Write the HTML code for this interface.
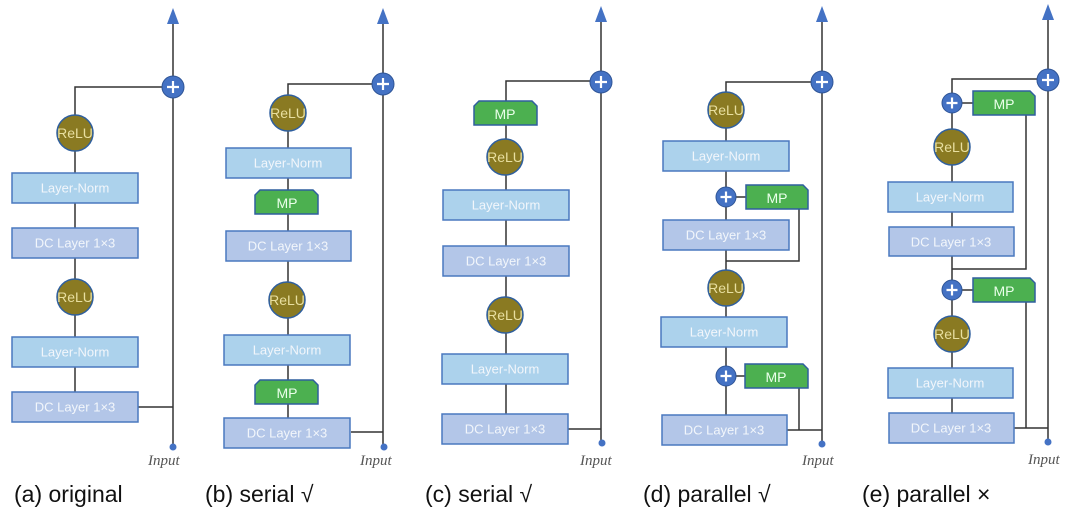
<!DOCTYPE html>
<html><head><meta charset="utf-8"><style>
html,body{margin:0;padding:0;background:#fff;width:1080px;height:516px;overflow:hidden}
svg{display:block}
.ln{fill:#acd2ec;stroke:#4a78bf;stroke-width:1.5}
.dc{fill:#b3c6e8;stroke:#4a78bf;stroke-width:1.5}
.mp{fill:#4cb050;stroke:#2f5f9e;stroke-width:1.5}
.re{fill:#8a7a22;stroke:#2f5f9e;stroke-width:1.5}
.pl{fill:#4472c4;stroke:#2f5597;stroke-width:1}
.w{stroke:#333;stroke-width:1.5;fill:none}
.t{font-family:"Liberation Sans",sans-serif;font-size:13px;fill:#f2f6fb;text-anchor:middle;dominant-baseline:central}
.tr{font-family:"Liberation Sans",sans-serif;font-size:14px;fill:#e8dfa0;text-anchor:middle;dominant-baseline:central}
.tm{font-family:"Liberation Sans",sans-serif;font-size:14px;fill:#eaffea;text-anchor:middle;dominant-baseline:central}
.in{font-family:"Liberation Serif",serif;font-style:italic;font-size:15px;fill:#555}
.cap{font-family:"Liberation Sans",sans-serif;font-size:23px;fill:#111}
</style></head><body>
<svg width="1080" height="516" viewBox="0 0 1080 516" xmlns="http://www.w3.org/2000/svg">
<defs>
<g id="plus"><circle r="11" class="pl"/><path d="M-6 0H6M0 -6V6" stroke="#fff" stroke-width="2.2"/></g>
<g id="plusS"><circle r="10" class="pl"/><path d="M-5.5 0H5.5M0 -5.5V5.5" stroke="#fff" stroke-width="2.2"/></g>
</defs>

<!-- (a) -->
<path class="w" d="M173 447V20M173 87H75V415M138 407H173"/>
<polygon points="173,8 167,24 179,24" fill="#4472c4"/>
<rect x="12" y="173" width="126" height="30" class="ln"/><text x="75" y="188" class="t">Layer-Norm</text>
<rect x="12" y="228" width="126" height="30" class="dc"/><text x="75" y="243" class="t">DC Layer 1×3</text>
<rect x="12" y="337" width="126" height="30" class="ln"/><text x="75" y="352" class="t">Layer-Norm</text>
<rect x="12" y="392" width="126" height="30" class="dc"/><text x="75" y="407" class="t">DC Layer 1×3</text>
<circle cx="75" cy="133" r="18" class="re"/><text x="75" y="133" class="tr">ReLU</text>
<circle cx="75" cy="297" r="18" class="re"/><text x="75" y="297" class="tr">ReLU</text>
<use href="#plus" x="173" y="87"/>
<circle cx="173" cy="447" r="3.5" fill="#4472c4"/>
<text x="148" y="465" class="in">Input</text>
<text x="14" y="502" class="cap">(a) original</text>

<!-- (b) -->
<path class="w" d="M383 447V20M383 84H288V420M351 432H383"/>
<polygon points="383,8 377,24 389,24" fill="#4472c4"/>
<circle cx="288" cy="113" r="18" class="re"/><text x="288" y="113" class="tr">ReLU</text>
<rect x="226" y="148" width="125" height="30" class="ln"/><text x="288" y="163" class="t">Layer-Norm</text>
<polygon points="255,214 255,195 260,190 313,190 318,195 318,214" class="mp"/><text x="287" y="203" class="tm">MP</text>
<rect x="226" y="231" width="125" height="30" class="dc"/><text x="288" y="246" class="t">DC Layer 1×3</text>
<circle cx="287" cy="300" r="18" class="re"/><text x="287" y="300" class="tr">ReLU</text>
<rect x="224" y="335" width="126" height="30" class="ln"/><text x="287" y="350" class="t">Layer-Norm</text>
<polygon points="255,404 255,385 260,380 313,380 318,385 318,404" class="mp"/><text x="287" y="393" class="tm">MP</text>
<rect x="224" y="418" width="126" height="30" class="dc"/><text x="287" y="433" class="t">DC Layer 1×3</text>
<use href="#plus" x="383" y="84"/>
<circle cx="384" cy="447" r="3.5" fill="#4472c4"/>
<text x="360" y="465" class="in">Input</text>
<text x="205" y="502" class="cap">(b) serial √</text>

<!-- (c) -->
<path class="w" d="M601 443V20M601 81H506V416M568 429H601"/>
<polygon points="601,6 595,22 607,22" fill="#4472c4"/>
<polygon points="474,125 474,106 479,101 532,101 537,106 537,125" class="mp"/><text x="505" y="114" class="tm">MP</text>
<circle cx="505" cy="157" r="18" class="re"/><text x="505" y="157" class="tr">ReLU</text>
<rect x="443" y="190" width="126" height="30" class="ln"/><text x="506" y="205" class="t">Layer-Norm</text>
<rect x="443" y="246" width="126" height="30" class="dc"/><text x="506" y="261" class="t">DC Layer 1×3</text>
<circle cx="505" cy="315" r="18" class="re"/><text x="505" y="315" class="tr">ReLU</text>
<rect x="442" y="354" width="126" height="30" class="ln"/><text x="505" y="369" class="t">Layer-Norm</text>
<rect x="442" y="414" width="126" height="30" class="dc"/><text x="505" y="429" class="t">DC Layer 1×3</text>
<use href="#plus" x="601" y="82"/>
<circle cx="602" cy="443" r="3.5" fill="#4472c4"/>
<text x="580" y="465" class="in">Input</text>
<text x="425" y="502" class="cap">(c) serial √</text>

<!-- (d) -->
<path class="w" d="M822 444V20M822 82H726V417M787 430H822M799 388V430M799 209V261H726M736 197H746M736 376H745"/>
<polygon points="822,6 816,22 828,22" fill="#4472c4"/>
<circle cx="726" cy="110" r="18" class="re"/><text x="726" y="110" class="tr">ReLU</text>
<rect x="663" y="141" width="126" height="30" class="ln"/><text x="726" y="156" class="t">Layer-Norm</text>
<use href="#plusS" x="726" y="197"/>
<polygon points="746,209 746,185 803,185 808,190 808,209" class="mp"/><text x="777" y="198" class="tm">MP</text>
<rect x="663" y="220" width="126" height="30" class="dc"/><text x="726" y="235" class="t">DC Layer 1×3</text>
<circle cx="726" cy="288" r="18" class="re"/><text x="726" y="288" class="tr">ReLU</text>
<rect x="661" y="317" width="126" height="30" class="ln"/><text x="724" y="332" class="t">Layer-Norm</text>
<use href="#plusS" x="726" y="376"/>
<polygon points="745,388 745,364 803,364 808,369 808,388" class="mp"/><text x="776" y="377" class="tm">MP</text>
<rect x="662" y="415" width="125" height="30" class="dc"/><text x="724" y="430" class="t">DC Layer 1×3</text>
<use href="#plus" x="822" y="82"/>
<circle cx="822" cy="444" r="3.5" fill="#4472c4"/>
<text x="802" y="465" class="in">Input</text>
<text x="643" y="502" class="cap">(d) parallel √</text>

<!-- (e) -->
<path class="w" d="M1048 442V20M1048 79H952V415M1014 428H1048M1026 302V428M1026 115V269H952M962 103H973M962 290H973"/>
<polygon points="1048,4 1042,20 1054,20" fill="#4472c4"/>
<use href="#plusS" x="952" y="103"/>
<polygon points="973,115 973,91 1030,91 1035,96 1035,115" class="mp"/><text x="1004" y="104" class="tm">MP</text>
<circle cx="952" cy="147" r="18" class="re"/><text x="952" y="147" class="tr">ReLU</text>
<rect x="888" y="182" width="125" height="30" class="ln"/><text x="950" y="197" class="t">Layer-Norm</text>
<rect x="889" y="227" width="125" height="29" class="dc"/><text x="951" y="242" class="t">DC Layer 1×3</text>
<use href="#plusS" x="952" y="290"/>
<polygon points="973,302 973,278 1030,278 1035,283 1035,302" class="mp"/><text x="1004" y="291" class="tm">MP</text>
<circle cx="952" cy="334" r="18" class="re"/><text x="952" y="334" class="tr">ReLU</text>
<rect x="888" y="368" width="125" height="30" class="ln"/><text x="950" y="383" class="t">Layer-Norm</text>
<rect x="889" y="413" width="125" height="30" class="dc"/><text x="951" y="428" class="t">DC Layer 1×3</text>
<use href="#plus" x="1048" y="80"/>
<circle cx="1048" cy="442" r="3.5" fill="#4472c4"/>
<text x="1028" y="464" class="in">Input</text>
<text x="862" y="502" class="cap">(e) parallel ×</text>
</svg>
</body></html>
